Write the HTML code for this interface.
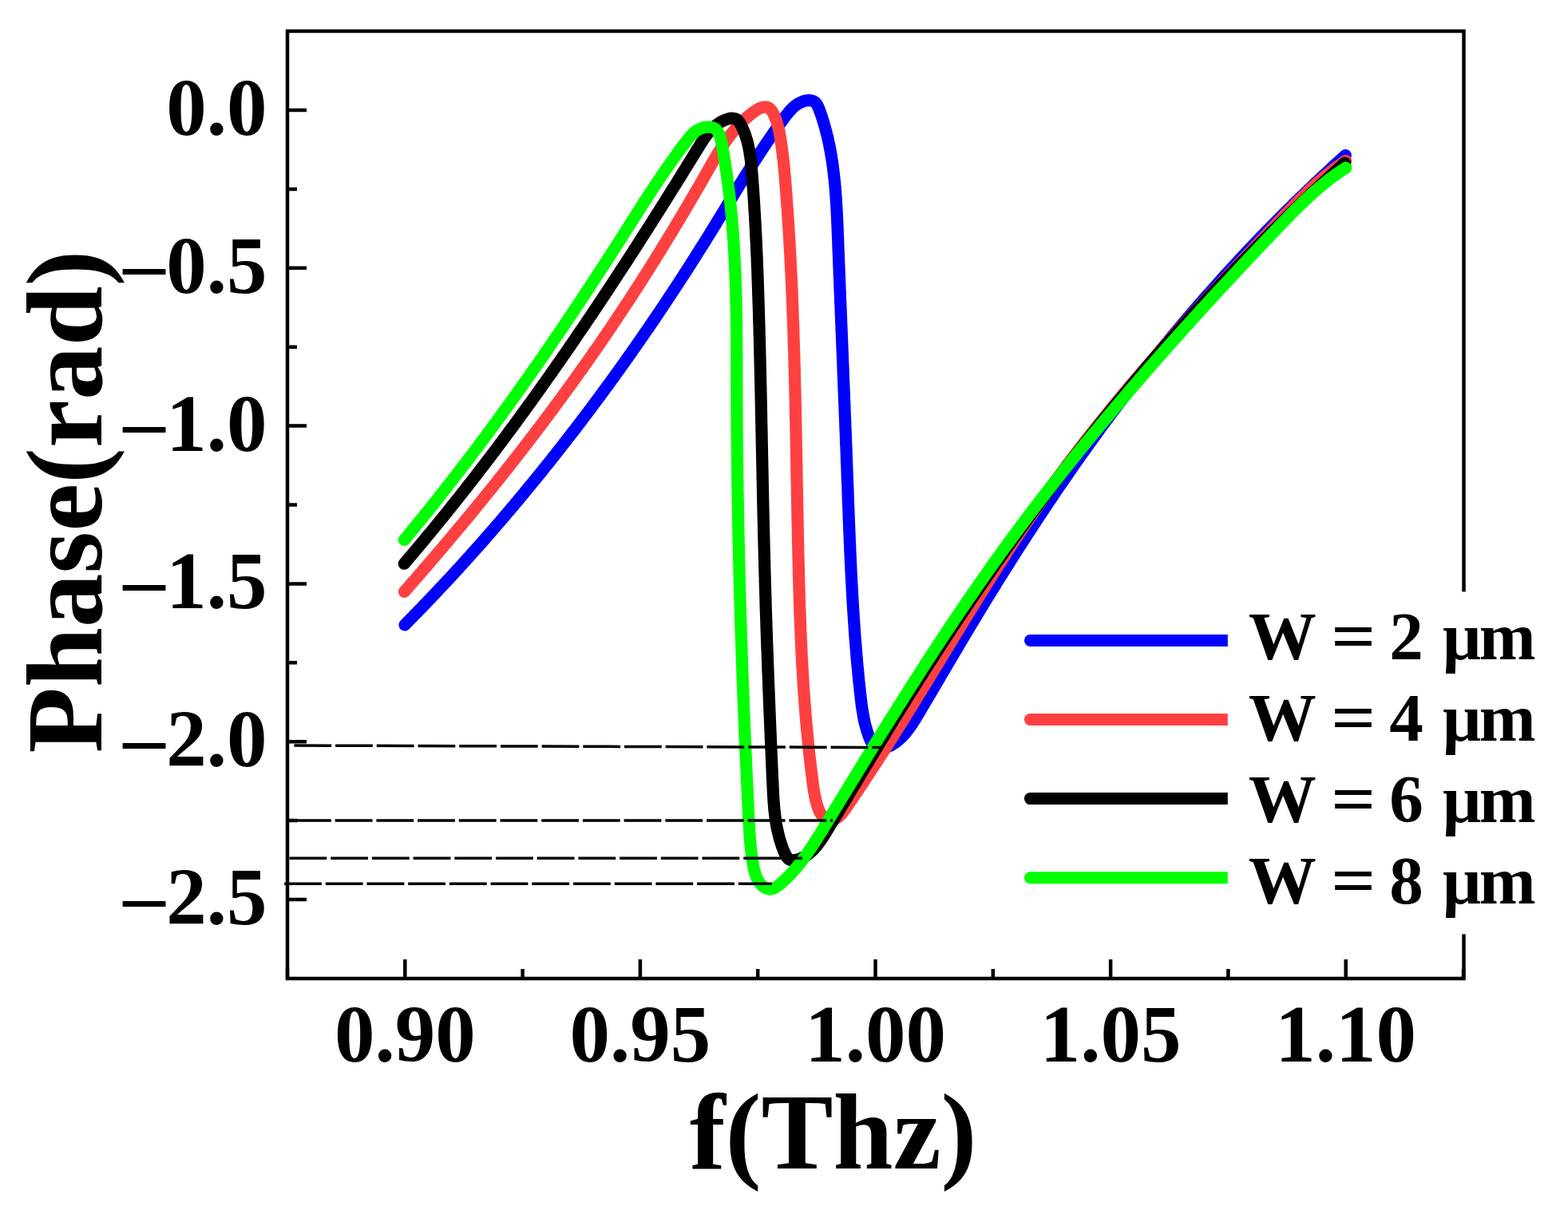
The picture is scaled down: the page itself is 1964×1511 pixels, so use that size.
<!DOCTYPE html>
<html><head><meta charset="utf-8"><title>Phase vs frequency</title>
<style>html,body{margin:0;padding:0;background:#fff;}svg{display:block;}</style>
</head><body>
<svg width="1964" height="1511" viewBox="0 0 1964 1511">
<rect x="0" y="0" width="1964" height="1511" fill="#ffffff"/>
<path d="M507.0,782.9 L509.1,780.7 L511.2,778.6 L513.3,776.5 L515.4,774.4 L517.5,772.2 L519.6,770.1 L521.7,767.9 L523.8,765.8 L525.9,763.6 L528.0,761.5 L530.0,759.3 L532.1,757.2 L534.2,755.0 L536.3,752.8 L538.3,750.7 L540.4,748.5 L542.5,746.3 L544.5,744.2 L546.6,742.0 L548.6,739.8 L550.7,737.6 L552.7,735.4 L554.8,733.2 L556.8,731.1 L558.9,728.9 L560.9,726.7 L563.0,724.5 L565.0,722.3 L567.0,720.1 L569.1,717.8 L571.1,715.6 L573.1,713.4 L575.2,711.2 L577.2,709.0 L579.2,706.8 L581.2,704.5 L583.2,702.3 L585.2,700.1 L587.3,697.9 L589.3,695.6 L591.3,693.4 L593.3,691.1 L595.3,688.9 L597.3,686.7 L599.3,684.4 L601.3,682.2 L603.3,679.9 L605.2,677.7 L607.2,675.4 L609.2,673.1 L611.2,670.9 L613.2,668.6 L615.1,666.3 L617.1,664.1 L619.1,661.8 L621.1,659.5 L623.0,657.2 L625.0,655.0 L627.0,652.7 L628.9,650.4 L630.9,648.1 L632.8,645.8 L634.8,643.5 L636.7,641.2 L638.7,638.9 L640.6,636.6 L642.6,634.3 L644.5,632.0 L646.4,629.7 L648.4,627.4 L650.3,625.1 L652.2,622.8 L654.1,620.5 L656.1,618.2 L658.0,615.8 L659.9,613.5 L661.8,611.2 L663.7,608.9 L665.6,606.5 L667.6,604.2 L669.5,601.9 L671.4,599.5 L673.3,597.2 L675.2,594.9 L677.1,592.5 L679.0,590.2 L680.8,587.8 L682.7,585.5 L684.6,583.1 L686.5,580.8 L688.4,578.4 L690.3,576.1 L692.1,573.7 L694.0,571.3 L695.9,569.0 L697.7,566.6 L699.6,564.2 L701.5,561.9 L703.3,559.5 L705.2,557.1 L707.0,554.8 L708.9,552.4 L710.7,550.0 L712.6,547.6 L714.4,545.2 L716.3,542.8 L718.1,540.5 L720.0,538.1 L721.8,535.7 L723.6,533.3 L725.5,530.9 L727.3,528.5 L729.1,526.1 L730.9,523.7 L732.7,521.3 L734.6,518.9 L736.4,516.5 L738.2,514.1 L740.0,511.7 L741.8,509.2 L743.6,506.8 L745.4,504.4 L747.2,502.0 L749.0,499.6 L750.8,497.2 L752.6,494.7 L754.4,492.3 L756.1,489.9 L757.9,487.5 L759.7,485.0 L761.5,482.6 L763.3,480.2 L765.0,477.7 L766.8,475.3 L768.6,472.9 L770.3,470.4 L772.1,468.0 L773.8,465.5 L775.6,463.1 L777.4,460.6 L779.1,458.2 L780.9,455.7 L782.6,453.3 L784.3,450.8 L786.1,448.4 L787.8,445.9 L789.6,443.5 L791.3,441.0 L793.0,438.5 L794.7,436.1 L796.5,433.6 L798.2,431.1 L799.9,428.7 L801.6,426.2 L803.3,423.7 L805.0,421.3 L806.7,418.8 L808.5,416.3 L810.2,413.8 L811.9,411.4 L813.6,408.9 L815.2,406.4 L816.9,403.9 L818.6,401.4 L820.3,399.0 L822.0,396.5 L823.7,394.0 L825.4,391.5 L827.0,389.0 L828.7,386.5 L830.4,384.0 L832.0,381.5 L833.7,379.0 L835.4,376.5 L837.0,374.0 L838.7,371.5 L840.3,369.0 L842.0,366.5 L843.6,364.0 L845.3,361.5 L846.9,359.0 L848.6,356.5 L850.2,354.0 L851.8,351.5 L853.5,349.0 L855.1,346.5 L856.7,343.9 L858.3,341.4 L860.0,338.9 L861.6,336.4 L863.2,333.9 L864.8,331.4 L866.4,328.8 L868.0,326.3 L869.6,323.8 L871.2,321.3 L872.8,318.7 L874.4,316.2 L876.0,313.7 L877.6,311.2 L879.2,308.6 L880.8,306.1 L882.4,303.6 L884.0,301.0 L885.5,298.5 L887.1,296.0 L888.7,293.4 L890.2,290.9 L891.8,288.4 L893.4,285.8 L894.9,283.3 L896.5,280.8 L898.0,278.2 L899.6,275.7 L901.2,273.1 L902.7,270.6 L904.3,268.0 L905.8,265.5 L907.4,262.9 L908.9,260.4 L910.5,257.9 L912.0,255.3 L913.6,252.8 L915.1,250.2 L916.7,247.7 L918.2,245.1 L919.8,242.6 L921.3,240.0 L922.9,237.5 L924.5,234.9 L926.0,232.4 L927.6,229.8 L929.2,227.3 L930.8,224.7 L932.4,222.2 L934.0,219.6 L935.6,217.1 L937.2,214.5 L938.8,212.0 L940.4,209.4 L942.0,206.9 L943.6,204.3 L945.3,201.8 L946.9,199.3 L948.6,196.7 L950.2,194.2 L951.9,191.6 L953.6,189.1 L955.2,186.5 L956.9,184.0 L958.6,181.5 L960.3,178.9 L962.1,176.4 L963.8,173.8 L965.5,171.3 L967.3,168.8 L969.0,166.2 L970.8,163.7 L972.6,161.2 L974.4,158.6 L976.2,156.1 L978.0,153.6 L979.9,151.0 L981.7,148.5 L983.6,146.0 L985.5,143.6 L987.4,141.2 L989.4,138.9 L991.5,136.7 L993.6,134.6 L995.8,132.7 L998.1,131.0 L1000.5,129.5 L1003.1,128.2 L1005.7,127.1 L1008.4,126.3 L1011.2,125.8 L1014.0,125.7 L1016.6,126.0 L1019.0,126.9 L1021.1,128.2 L1022.8,130.2 L1024.2,132.6 L1025.4,135.3 L1026.5,138.1 L1027.5,141.0 L1028.5,143.8 L1029.5,146.7 L1030.4,149.6 L1031.3,152.5 L1032.2,155.4 L1033.0,158.3 L1033.8,161.2 L1034.6,164.1 L1035.3,167.0 L1036.1,169.9 L1036.8,172.8 L1037.4,175.8 L1038.1,178.7 L1038.7,181.6 L1039.3,184.6 L1039.8,187.5 L1040.4,190.5 L1040.9,193.4 L1041.4,196.4 L1041.9,199.4 L1042.3,202.3 L1042.8,205.3 L1043.2,208.3 L1043.6,211.2 L1043.9,214.2 L1044.3,217.2 L1044.6,220.2 L1045.0,223.2 L1045.3,226.2 L1045.6,229.2 L1045.9,232.2 L1046.1,235.2 L1046.4,238.2 L1046.6,241.2 L1046.8,244.2 L1047.0,247.2 L1047.3,250.2 L1047.4,253.2 L1047.6,256.2 L1047.8,259.2 L1048.0,262.3 L1048.1,265.3 L1048.3,268.3 L1048.4,271.3 L1048.6,274.3 L1048.7,277.3 L1048.8,280.4 L1049.0,283.4 L1049.1,286.4 L1049.2,289.4 L1049.3,292.4 L1049.4,295.5 L1049.6,298.5 L1049.7,301.5 L1049.8,304.5 L1049.9,307.5 L1050.0,310.6 L1050.1,313.6 L1050.3,316.6 L1050.4,319.6 L1050.5,322.6 L1050.6,325.6 L1050.7,328.6 L1050.8,331.7 L1051.0,334.7 L1051.1,337.7 L1051.2,340.7 L1051.3,343.7 L1051.4,346.7 L1051.6,349.7 L1051.7,352.7 L1051.8,355.7 L1051.9,358.7 L1052.0,361.8 L1052.1,364.8 L1052.3,367.8 L1052.4,370.8 L1052.5,373.8 L1052.6,376.8 L1052.7,379.8 L1052.9,382.8 L1053.0,385.8 L1053.1,388.8 L1053.2,391.8 L1053.3,394.8 L1053.5,397.8 L1053.6,400.8 L1053.7,403.8 L1053.8,406.8 L1053.9,409.8 L1054.1,412.8 L1054.2,415.8 L1054.3,418.8 L1054.4,421.8 L1054.5,424.8 L1054.7,427.8 L1054.8,430.8 L1054.9,433.8 L1055.0,436.8 L1055.1,439.8 L1055.3,442.8 L1055.4,445.8 L1055.5,448.8 L1055.6,451.8 L1055.7,454.8 L1055.9,457.8 L1056.0,460.8 L1056.1,463.8 L1056.2,466.8 L1056.3,469.8 L1056.4,472.8 L1056.6,475.8 L1056.7,478.8 L1056.8,481.8 L1056.9,484.8 L1057.0,487.8 L1057.2,490.8 L1057.3,493.8 L1057.4,496.8 L1057.5,499.8 L1057.6,502.8 L1057.8,505.8 L1057.9,508.8 L1058.0,511.8 L1058.1,514.8 L1058.2,517.8 L1058.3,520.8 L1058.5,523.8 L1058.6,526.7 L1058.7,529.7 L1058.8,532.7 L1058.9,535.7 L1059.0,538.7 L1059.2,541.7 L1059.3,544.7 L1059.4,547.7 L1059.5,550.7 L1059.6,553.7 L1059.7,556.7 L1059.9,559.7 L1060.0,562.7 L1060.1,565.7 L1060.2,568.7 L1060.3,571.7 L1060.4,574.7 L1060.5,577.7 L1060.6,580.7 L1060.8,583.7 L1060.9,586.7 L1061.0,589.7 L1061.1,592.7 L1061.2,595.7 L1061.3,598.7 L1061.4,601.7 L1061.5,604.7 L1061.7,607.7 L1061.8,610.7 L1061.9,613.7 L1062.0,616.7 L1062.1,619.7 L1062.2,622.7 L1062.3,625.7 L1062.4,628.7 L1062.5,631.7 L1062.7,634.7 L1062.8,637.7 L1062.9,640.7 L1063.0,643.7 L1063.1,646.7 L1063.2,649.7 L1063.3,652.7 L1063.5,655.7 L1063.6,658.7 L1063.7,661.7 L1063.8,664.7 L1063.9,667.7 L1064.1,670.7 L1064.2,673.7 L1064.3,676.7 L1064.4,679.7 L1064.6,682.8 L1064.7,685.8 L1064.8,688.8 L1064.9,691.8 L1065.1,694.8 L1065.2,697.8 L1065.3,700.8 L1065.5,703.8 L1065.6,706.8 L1065.8,709.8 L1065.9,712.8 L1066.0,715.8 L1066.2,718.8 L1066.3,721.8 L1066.5,724.8 L1066.6,727.8 L1066.8,730.8 L1067.0,733.8 L1067.1,736.8 L1067.3,739.8 L1067.5,742.8 L1067.6,745.8 L1067.8,748.8 L1068.0,751.8 L1068.1,754.8 L1068.3,757.8 L1068.5,760.9 L1068.7,763.9 L1068.9,766.9 L1069.1,769.9 L1069.3,772.9 L1069.5,775.9 L1069.7,778.9 L1069.9,781.9 L1070.1,784.9 L1070.3,787.9 L1070.5,790.9 L1070.7,793.9 L1070.9,796.9 L1071.2,799.9 L1071.4,802.9 L1071.6,805.9 L1071.9,808.9 L1072.1,811.9 L1072.4,814.9 L1072.6,817.9 L1072.9,820.9 L1073.1,823.9 L1073.4,826.9 L1073.6,829.9 L1073.9,832.9 L1074.2,835.9 L1074.5,838.9 L1074.8,841.9 L1075.0,844.9 L1075.3,847.9 L1075.6,850.9 L1075.9,853.9 L1076.2,856.8 L1076.6,859.8 L1076.9,862.8 L1077.2,865.8 L1077.5,868.8 L1077.9,871.8 L1078.2,874.8 L1078.6,877.8 L1078.9,880.8 L1079.3,883.8 L1079.7,886.8 L1080.2,889.8 L1080.7,892.8 L1081.2,895.7 L1081.7,898.7 L1082.3,901.7 L1083.0,904.7 L1083.7,907.7 L1084.5,910.6 L1085.3,913.6 L1086.2,916.6 L1087.2,919.5 L1088.3,922.5 L1089.4,925.4 L1090.7,928.3 L1092.0,931.0 L1093.6,933.4 L1095.4,935.3 L1097.4,936.7 L1099.6,937.5 L1102.0,937.9 L1104.5,937.8 L1107.2,937.4 L1109.9,936.6 L1112.6,935.5 L1115.3,934.2 L1118.0,932.6 L1120.7,930.9 L1123.2,929.0 L1125.6,927.1 L1127.9,925.0 L1130.1,922.9 L1132.2,920.7 L1134.2,918.4 L1136.1,916.0 L1137.9,913.6 L1139.7,911.2 L1141.4,908.7 L1143.1,906.2 L1144.7,903.6 L1146.4,901.0 L1147.9,898.4 L1149.5,895.8 L1151.1,893.2 L1152.6,890.6 L1154.2,887.9 L1155.7,885.3 L1157.3,882.7 L1158.8,880.1 L1160.4,877.5 L1161.9,874.9 L1163.4,872.3 L1165.0,869.7 L1166.5,867.1 L1168.0,864.5 L1169.6,861.9 L1171.1,859.3 L1172.6,856.7 L1174.1,854.1 L1175.7,851.5 L1177.2,848.9 L1178.7,846.3 L1180.2,843.7 L1181.8,841.1 L1183.3,838.6 L1184.8,836.0 L1186.3,833.4 L1187.8,830.8 L1189.4,828.2 L1190.9,825.6 L1192.4,823.0 L1193.9,820.5 L1195.4,817.9 L1197.0,815.3 L1198.5,812.7 L1200.0,810.1 L1201.5,807.6 L1203.1,805.0 L1204.6,802.4 L1206.1,799.8 L1207.7,797.3 L1209.2,794.7 L1210.7,792.1 L1212.3,789.5 L1213.8,787.0 L1215.3,784.4 L1216.9,781.8 L1218.4,779.3 L1220.0,776.7 L1221.5,774.1 L1223.1,771.6 L1224.6,769.0 L1226.2,766.4 L1227.7,763.9 L1229.3,761.3 L1230.9,758.8 L1232.4,756.2 L1234.0,753.6 L1235.5,751.1 L1237.1,748.5 L1238.7,746.0 L1240.3,743.4 L1241.8,740.9 L1243.4,738.3 L1245.0,735.8 L1246.6,733.2 L1248.1,730.7 L1249.7,728.1 L1251.3,725.6 L1252.9,723.0 L1254.5,720.5 L1256.1,717.9 L1257.7,715.4 L1259.3,712.8 L1260.9,710.3 L1262.5,707.8 L1264.1,705.2 L1265.7,702.7 L1267.3,700.2 L1268.9,697.6 L1270.5,695.1 L1272.1,692.6 L1273.7,690.0 L1275.4,687.5 L1277.0,685.0 L1278.6,682.4 L1280.2,679.9 L1281.9,677.4 L1283.5,674.9 L1285.1,672.4 L1286.8,669.8 L1288.4,667.3 L1290.0,664.8 L1291.7,662.3 L1293.3,659.8 L1295.0,657.3 L1296.6,654.8 L1298.3,652.2 L1299.9,649.7 L1301.6,647.2 L1303.2,644.7 L1304.9,642.2 L1306.6,639.7 L1308.2,637.2 L1309.9,634.7 L1311.6,632.2 L1313.2,629.7 L1314.9,627.2 L1316.6,624.8 L1318.3,622.3 L1319.9,619.8 L1321.6,617.3 L1323.3,614.8 L1325.0,612.3 L1326.7,609.8 L1328.4,607.4 L1330.1,604.9 L1331.8,602.4 L1333.5,599.9 L1335.2,597.4 L1336.9,595.0 L1338.6,592.5 L1340.3,590.0 L1342.1,587.6 L1343.8,585.1 L1345.5,582.6 L1347.2,580.2 L1348.9,577.7 L1350.7,575.3 L1352.4,572.8 L1354.1,570.4 L1355.9,567.9 L1357.6,565.5 L1359.4,563.0 L1361.1,560.6 L1362.9,558.1 L1364.6,555.7 L1366.4,553.2 L1368.1,550.8 L1369.9,548.4 L1371.7,545.9 L1373.4,543.5 L1375.2,541.1 L1377.0,538.6 L1378.7,536.2 L1380.5,533.8 L1382.3,531.4 L1384.1,528.9 L1385.9,526.5 L1387.7,524.1 L1389.5,521.7 L1391.2,519.3 L1393.0,516.9 L1394.8,514.5 L1396.7,512.1 L1398.5,509.7 L1400.3,507.3 L1402.1,504.9 L1403.9,502.5 L1405.7,500.1 L1407.5,497.7 L1409.4,495.3 L1411.2,492.9 L1413.0,490.5 L1414.9,488.1 L1416.7,485.7 L1418.5,483.4 L1420.4,481.0 L1422.2,478.6 L1424.1,476.2 L1425.9,473.9 L1427.8,471.5 L1429.6,469.1 L1431.5,466.8 L1433.4,464.4 L1435.2,462.0 L1437.1,459.7 L1439.0,457.3 L1440.9,455.0 L1442.7,452.6 L1444.6,450.3 L1446.5,447.9 L1448.4,445.6 L1450.3,443.3 L1452.2,440.9 L1454.1,438.6 L1456.0,436.3 L1457.9,433.9 L1459.8,431.6 L1461.7,429.3 L1463.6,427.0 L1465.5,424.6 L1467.4,422.3 L1469.4,420.0 L1471.3,417.7 L1473.2,415.4 L1475.2,413.1 L1477.1,410.8 L1479.0,408.5 L1481.0,406.2 L1482.9,403.9 L1484.9,401.6 L1486.8,399.3 L1488.8,397.0 L1490.7,394.7 L1492.7,392.4 L1494.6,390.1 L1496.6,387.9 L1498.6,385.6 L1500.5,383.3 L1502.5,381.0 L1504.5,378.8 L1506.4,376.5 L1508.4,374.2 L1510.4,372.0 L1512.4,369.7 L1514.4,367.5 L1516.4,365.2 L1518.4,363.0 L1520.4,360.7 L1522.4,358.5 L1524.4,356.2 L1526.4,354.0 L1528.4,351.8 L1530.4,349.5 L1532.4,347.3 L1534.5,345.1 L1536.5,342.8 L1538.5,340.6 L1540.5,338.4 L1542.6,336.2 L1544.6,334.0 L1546.6,331.8 L1548.7,329.5 L1550.7,327.3 L1552.8,325.1 L1554.8,322.9 L1556.9,320.7 L1558.9,318.5 L1561.0,316.4 L1563.0,314.2 L1565.1,312.0 L1567.2,309.8 L1569.2,307.6 L1571.3,305.4 L1573.4,303.3 L1575.5,301.1 L1577.5,298.9 L1579.6,296.8 L1581.7,294.6 L1583.8,292.5 L1585.9,290.3 L1588.0,288.1 L1590.1,286.0 L1592.2,283.9 L1594.3,281.7 L1596.4,279.6 L1598.5,277.4 L1600.6,275.3 L1602.8,273.2 L1604.9,271.0 L1607.0,268.9 L1609.1,266.8 L1611.2,264.7 L1613.4,262.6 L1615.5,260.5 L1617.7,258.3 L1619.8,256.2 L1621.9,254.1 L1624.1,252.0 L1626.2,249.9 L1628.4,247.8 L1630.5,245.8 L1632.7,243.7 L1634.9,241.6 L1637.0,239.5 L1639.2,237.4 L1641.4,235.4 L1643.5,233.3 L1645.7,231.2 L1647.9,229.2 L1650.1,227.1 L1652.2,225.0 L1654.4,223.0 L1656.6,220.9 L1658.8,218.9 L1661.0,216.9 L1663.2,214.8 L1665.4,212.8 L1667.6,210.7 L1669.8,208.7 L1672.0,206.7 L1674.2,204.7 L1676.5,202.6 L1678.7,200.6 L1680.9,198.6 L1683.1,196.6 L1685.3,194.6" fill="none" stroke="#0000ff" stroke-width="15.2" stroke-linecap="round" stroke-linejoin="round"/>
<path d="M506.5,741.3 L508.5,739.1 L510.5,736.8 L512.5,734.5 L514.4,732.3 L516.4,730.0 L518.4,727.7 L520.4,725.5 L522.4,723.2 L524.3,720.9 L526.3,718.7 L528.3,716.4 L530.2,714.1 L532.2,711.8 L534.2,709.6 L536.1,707.3 L538.1,705.0 L540.1,702.7 L542.0,700.4 L544.0,698.2 L545.9,695.9 L547.9,693.6 L549.8,691.3 L551.8,689.0 L553.7,686.7 L555.7,684.4 L557.6,682.1 L559.6,679.8 L561.5,677.5 L563.4,675.2 L565.4,672.9 L567.3,670.6 L569.3,668.3 L571.2,666.0 L573.1,663.7 L575.0,661.4 L577.0,659.1 L578.9,656.8 L580.8,654.5 L582.7,652.2 L584.6,649.9 L586.6,647.6 L588.5,645.2 L590.4,642.9 L592.3,640.6 L594.2,638.3 L596.1,636.0 L598.0,633.6 L599.9,631.3 L601.8,629.0 L603.7,626.7 L605.6,624.3 L607.5,622.0 L609.4,619.7 L611.3,617.3 L613.2,615.0 L615.1,612.7 L616.9,610.3 L618.8,608.0 L620.7,605.6 L622.6,603.3 L624.4,600.9 L626.3,598.6 L628.2,596.2 L630.1,593.9 L631.9,591.5 L633.8,589.2 L635.7,586.8 L637.5,584.5 L639.4,582.1 L641.2,579.8 L643.1,577.4 L644.9,575.0 L646.8,572.7 L648.6,570.3 L650.5,567.9 L652.3,565.6 L654.1,563.2 L656.0,560.8 L657.8,558.4 L659.7,556.1 L661.5,553.7 L663.3,551.3 L665.1,548.9 L667.0,546.5 L668.8,544.1 L670.6,541.8 L672.4,539.4 L674.2,537.0 L676.1,534.6 L677.9,532.2 L679.7,529.8 L681.5,527.4 L683.3,525.0 L685.1,522.6 L686.9,520.2 L688.7,517.8 L690.5,515.4 L692.3,513.0 L694.0,510.6 L695.8,508.1 L697.6,505.7 L699.4,503.3 L701.2,500.9 L703.0,498.5 L704.7,496.1 L706.5,493.6 L708.3,491.2 L710.0,488.8 L711.8,486.4 L713.6,483.9 L715.3,481.5 L717.1,479.1 L718.8,476.6 L720.6,474.2 L722.3,471.7 L724.1,469.3 L725.8,466.8 L727.6,464.4 L729.3,462.0 L731.1,459.5 L732.8,457.0 L734.5,454.6 L736.3,452.1 L738.0,449.7 L739.7,447.2 L741.4,444.8 L743.1,442.3 L744.9,439.8 L746.6,437.4 L748.3,434.9 L750.0,432.4 L751.7,429.9 L753.4,427.5 L755.1,425.0 L756.8,422.5 L758.5,420.0 L760.2,417.5 L761.9,415.0 L763.6,412.6 L765.3,410.1 L766.9,407.6 L768.6,405.1 L770.3,402.6 L772.0,400.1 L773.6,397.6 L775.3,395.1 L777.0,392.6 L778.6,390.1 L780.3,387.6 L781.9,385.0 L783.6,382.5 L785.3,380.0 L786.9,377.5 L788.6,375.0 L790.2,372.5 L791.8,369.9 L793.5,367.4 L795.1,364.9 L796.7,362.4 L798.4,359.8 L800.0,357.3 L801.6,354.8 L803.2,352.2 L804.9,349.7 L806.5,347.1 L808.1,344.6 L809.7,342.1 L811.3,339.5 L812.9,337.0 L814.5,334.4 L816.1,331.9 L817.7,329.3 L819.3,326.8 L820.9,324.2 L822.5,321.7 L824.1,319.1 L825.7,316.5 L827.3,314.0 L828.8,311.4 L830.4,308.9 L832.0,306.3 L833.6,303.7 L835.1,301.2 L836.7,298.6 L838.3,296.0 L839.8,293.5 L841.4,290.9 L842.9,288.3 L844.5,285.7 L846.0,283.2 L847.6,280.6 L849.1,278.0 L850.7,275.4 L852.2,272.9 L853.7,270.3 L855.3,267.7 L856.8,265.1 L858.3,262.5 L859.9,259.9 L861.4,257.4 L862.9,254.8 L864.4,252.2 L865.9,249.6 L867.4,247.0 L869.0,244.4 L870.5,241.8 L872.0,239.2 L873.5,236.6 L875.0,234.1 L876.5,231.5 L878.0,228.9 L879.5,226.3 L880.9,223.7 L882.4,221.1 L883.9,218.5 L885.4,215.9 L886.9,213.3 L888.3,210.7 L889.8,208.1 L891.3,205.5 L892.8,202.9 L894.3,200.3 L895.8,197.8 L897.4,195.2 L898.9,192.6 L900.5,190.1 L902.0,187.6 L903.7,185.0 L905.3,182.5 L907.0,180.1 L908.7,177.6 L910.4,175.1 L912.2,172.7 L914.0,170.3 L915.8,167.9 L917.7,165.6 L919.6,163.3 L921.6,161.0 L923.7,158.7 L925.8,156.4 L927.9,154.2 L930.1,152.1 L932.4,149.9 L934.7,147.8 L937.1,145.7 L939.6,143.7 L942.1,141.7 L944.7,139.8 L947.3,138.1 L949.9,136.5 L952.5,135.3 L955.1,134.4 L957.5,134.0 L959.8,134.0 L962.0,134.7 L964.1,136.0 L965.9,138.0 L967.6,140.4 L969.0,143.2 L970.4,146.1 L971.6,149.1 L972.6,152.1 L973.5,155.0 L974.4,158.0 L975.1,161.0 L975.8,163.9 L976.4,166.9 L976.9,169.9 L977.4,172.8 L977.9,175.8 L978.4,178.8 L978.8,181.7 L979.2,184.7 L979.6,187.7 L980.0,190.7 L980.4,193.7 L980.7,196.6 L981.1,199.6 L981.4,202.6 L981.7,205.6 L982.0,208.6 L982.3,211.6 L982.5,214.6 L982.8,217.5 L983.1,220.5 L983.3,223.5 L983.5,226.5 L983.8,229.5 L984.0,232.5 L984.3,235.5 L984.5,238.5 L984.7,241.5 L985.0,244.5 L985.2,247.5 L985.4,250.5 L985.6,253.5 L985.8,256.5 L986.1,259.4 L986.3,262.4 L986.5,265.4 L986.7,268.4 L986.9,271.4 L987.1,274.4 L987.3,277.4 L987.5,280.4 L987.7,283.4 L987.9,286.4 L988.0,289.4 L988.2,292.4 L988.4,295.4 L988.6,298.4 L988.8,301.4 L988.9,304.4 L989.1,307.4 L989.3,310.4 L989.4,313.4 L989.6,316.4 L989.8,319.4 L989.9,322.4 L990.1,325.4 L990.2,328.4 L990.4,331.4 L990.5,334.4 L990.7,337.4 L990.8,340.4 L991.0,343.4 L991.1,346.4 L991.3,349.3 L991.4,352.3 L991.5,355.3 L991.7,358.3 L991.8,361.3 L991.9,364.3 L992.1,367.3 L992.2,370.3 L992.3,373.4 L992.4,376.4 L992.6,379.4 L992.7,382.4 L992.8,385.4 L992.9,388.4 L993.0,391.4 L993.1,394.4 L993.2,397.4 L993.3,400.4 L993.4,403.4 L993.6,406.4 L993.7,409.4 L993.8,412.4 L993.9,415.4 L994.0,418.4 L994.1,421.4 L994.1,424.4 L994.2,427.4 L994.3,430.4 L994.4,433.4 L994.5,436.4 L994.6,439.4 L994.7,442.4 L994.8,445.4 L994.9,448.4 L994.9,451.4 L995.0,454.4 L995.1,457.4 L995.2,460.4 L995.3,463.4 L995.3,466.4 L995.4,469.4 L995.5,472.4 L995.6,475.4 L995.6,478.4 L995.7,481.5 L995.8,484.5 L995.9,487.5 L995.9,490.5 L996.0,493.5 L996.1,496.5 L996.1,499.5 L996.2,502.5 L996.3,505.5 L996.3,508.5 L996.4,511.5 L996.4,514.5 L996.5,517.5 L996.6,520.5 L996.6,523.5 L996.7,526.5 L996.8,529.5 L996.8,532.5 L996.9,535.5 L996.9,538.6 L997.0,541.6 L997.0,544.6 L997.1,547.6 L997.2,550.6 L997.2,553.6 L997.3,556.6 L997.3,559.6 L997.4,562.6 L997.4,565.6 L997.5,568.6 L997.5,571.6 L997.6,574.6 L997.7,577.6 L997.7,580.6 L997.8,583.6 L997.8,586.6 L997.9,589.7 L997.9,592.7 L998.0,595.7 L998.0,598.7 L998.1,601.7 L998.1,604.7 L998.2,607.7 L998.3,610.7 L998.3,613.7 L998.4,616.7 L998.4,619.7 L998.5,622.7 L998.5,625.7 L998.6,628.7 L998.6,631.7 L998.7,634.8 L998.8,637.8 L998.8,640.8 L998.9,643.8 L998.9,646.8 L999.0,649.8 L999.0,652.8 L999.1,655.8 L999.2,658.8 L999.2,661.8 L999.3,664.8 L999.3,667.8 L999.4,670.8 L999.5,673.8 L999.5,676.8 L999.6,679.8 L999.7,682.9 L999.7,685.9 L999.8,688.9 L999.9,691.9 L999.9,694.9 L1000.0,697.9 L1000.1,700.9 L1000.1,703.9 L1000.2,706.9 L1000.3,709.9 L1000.4,712.9 L1000.4,715.9 L1000.5,718.9 L1000.6,721.9 L1000.7,724.9 L1000.7,727.9 L1000.8,730.9 L1000.9,733.9 L1001.0,737.0 L1001.1,740.0 L1001.2,743.0 L1001.2,746.0 L1001.3,749.0 L1001.4,752.0 L1001.5,755.0 L1001.6,758.0 L1001.7,761.0 L1001.8,764.0 L1001.9,767.0 L1002.0,770.0 L1002.1,773.0 L1002.2,776.0 L1002.4,779.0 L1002.5,782.0 L1002.6,785.0 L1002.7,788.0 L1002.8,791.0 L1003.0,794.0 L1003.1,797.0 L1003.2,800.0 L1003.3,803.0 L1003.5,806.0 L1003.6,809.0 L1003.8,812.0 L1003.9,815.0 L1004.0,818.0 L1004.2,821.0 L1004.3,824.0 L1004.5,827.0 L1004.7,830.0 L1004.8,833.0 L1005.0,836.0 L1005.2,839.0 L1005.3,842.0 L1005.5,845.0 L1005.7,848.0 L1005.9,851.0 L1006.0,854.0 L1006.2,857.0 L1006.4,860.0 L1006.6,863.0 L1006.8,866.0 L1007.0,869.0 L1007.2,872.0 L1007.5,875.0 L1007.7,877.9 L1007.9,880.9 L1008.1,883.9 L1008.4,886.9 L1008.6,889.9 L1008.8,892.9 L1009.1,895.9 L1009.3,898.9 L1009.6,901.9 L1009.8,904.9 L1010.1,907.9 L1010.4,910.8 L1010.6,913.8 L1010.9,916.8 L1011.2,919.8 L1011.5,922.8 L1011.8,925.8 L1012.1,928.8 L1012.4,931.8 L1012.7,934.7 L1013.0,937.7 L1013.3,940.7 L1013.6,943.7 L1013.9,946.7 L1014.3,949.7 L1014.6,952.6 L1015.0,955.6 L1015.3,958.6 L1015.7,961.6 L1016.0,964.6 L1016.4,967.5 L1016.8,970.5 L1017.1,973.5 L1017.5,976.5 L1017.9,979.5 L1018.3,982.4 L1018.7,985.4 L1019.1,988.4 L1019.6,991.4 L1020.1,994.3 L1020.7,997.3 L1021.3,1000.3 L1022.0,1003.3 L1022.8,1006.2 L1023.6,1009.2 L1024.6,1012.2 L1025.7,1015.2 L1027.0,1018.0 L1028.7,1020.5 L1030.8,1022.7 L1033.3,1024.4 L1036.0,1025.6 L1038.8,1026.3 L1041.6,1026.6 L1044.3,1026.3 L1046.8,1025.5 L1049.1,1024.3 L1051.2,1022.7 L1053.2,1020.8 L1055.0,1018.7 L1056.8,1016.3 L1058.6,1013.9 L1060.3,1011.4 L1062.0,1008.9 L1063.7,1006.4 L1065.5,1003.9 L1067.2,1001.3 L1068.9,998.8 L1070.6,996.3 L1072.3,993.8 L1074.0,991.3 L1075.6,988.8 L1077.3,986.2 L1079.0,983.7 L1080.7,981.2 L1082.4,978.7 L1084.0,976.1 L1085.7,973.6 L1087.4,971.1 L1089.0,968.5 L1090.7,966.0 L1092.3,963.5 L1094.0,960.9 L1095.6,958.4 L1097.3,955.9 L1098.9,953.3 L1100.6,950.8 L1102.2,948.2 L1103.8,945.7 L1105.5,943.1 L1107.1,940.6 L1108.7,938.1 L1110.3,935.5 L1112.0,933.0 L1113.6,930.4 L1115.2,927.8 L1116.8,925.3 L1118.4,922.7 L1120.0,920.2 L1121.6,917.6 L1123.2,915.1 L1124.8,912.5 L1126.4,910.0 L1128.0,907.4 L1129.6,904.8 L1131.2,902.3 L1132.8,899.7 L1134.4,897.2 L1136.0,894.6 L1137.6,892.0 L1139.2,889.5 L1140.7,886.9 L1142.3,884.3 L1143.9,881.8 L1145.5,879.2 L1147.1,876.7 L1148.6,874.1 L1150.2,871.5 L1151.8,869.0 L1153.4,866.4 L1154.9,863.8 L1156.5,861.3 L1158.1,858.7 L1159.7,856.1 L1161.2,853.6 L1162.8,851.0 L1164.4,848.4 L1165.9,845.9 L1167.5,843.3 L1169.1,840.7 L1170.6,838.1 L1172.2,835.6 L1173.8,833.0 L1175.3,830.4 L1176.9,827.9 L1178.4,825.3 L1180.0,822.7 L1181.6,820.2 L1183.1,817.6 L1184.7,815.0 L1186.3,812.5 L1187.8,809.9 L1189.4,807.4 L1191.0,804.8 L1192.5,802.2 L1194.1,799.7 L1195.6,797.1 L1197.2,794.5 L1198.8,792.0 L1200.3,789.4 L1201.9,786.9 L1203.5,784.3 L1205.0,781.7 L1206.6,779.2 L1208.2,776.6 L1209.7,774.1 L1211.3,771.5 L1212.9,769.0 L1214.5,766.4 L1216.0,763.8 L1217.6,761.3 L1219.2,758.7 L1220.8,756.2 L1222.3,753.6 L1223.9,751.1 L1225.5,748.5 L1227.1,746.0 L1228.7,743.5 L1230.2,740.9 L1231.8,738.4 L1233.4,735.8 L1235.0,733.3 L1236.6,730.8 L1238.2,728.2 L1239.8,725.7 L1241.4,723.1 L1243.0,720.6 L1244.6,718.1 L1246.2,715.6 L1247.8,713.0 L1249.4,710.5 L1251.0,708.0 L1252.6,705.4 L1254.2,702.9 L1255.8,700.4 L1257.5,697.9 L1259.1,695.4 L1260.7,692.9 L1262.3,690.3 L1264.0,687.8 L1265.6,685.3 L1267.2,682.8 L1268.9,680.3 L1270.5,677.8 L1272.1,675.3 L1273.8,672.8 L1275.4,670.3 L1277.1,667.8 L1278.7,665.3 L1280.4,662.8 L1282.1,660.3 L1283.7,657.8 L1285.4,655.3 L1287.1,652.9 L1288.7,650.4 L1290.4,647.9 L1292.1,645.4 L1293.8,643.0 L1295.5,640.5 L1297.2,638.0 L1298.9,635.5 L1300.6,633.1 L1302.3,630.6 L1304.0,628.2 L1305.7,625.7 L1307.4,623.2 L1309.1,620.8 L1310.8,618.3 L1312.6,615.9 L1314.3,613.4 L1316.0,611.0 L1317.8,608.6 L1319.5,606.1 L1321.3,603.7 L1323.0,601.3 L1324.8,598.8 L1326.6,596.4 L1328.3,594.0 L1330.1,591.6 L1331.9,589.2 L1333.7,586.7 L1335.4,584.3 L1337.2,581.9 L1339.0,579.5 L1340.8,577.1 L1342.6,574.7 L1344.4,572.3 L1346.2,569.9 L1348.1,567.5 L1349.9,565.1 L1351.7,562.8 L1353.5,560.4 L1355.4,558.0 L1357.2,555.6 L1359.0,553.2 L1360.9,550.9 L1362.7,548.5 L1364.6,546.1 L1366.4,543.8 L1368.3,541.4 L1370.1,539.0 L1372.0,536.7 L1373.9,534.3 L1375.8,532.0 L1377.6,529.6 L1379.5,527.3 L1381.4,524.9 L1383.3,522.6 L1385.2,520.2 L1387.1,517.9 L1389.0,515.6 L1390.9,513.2 L1392.8,510.9 L1394.7,508.6 L1396.6,506.2 L1398.5,503.9 L1400.4,501.6 L1402.3,499.3 L1404.2,497.0 L1406.2,494.6 L1408.1,492.3 L1410.0,490.0 L1412.0,487.7 L1413.9,485.4 L1415.8,483.1 L1417.8,480.8 L1419.7,478.5 L1421.7,476.2 L1423.6,473.9 L1425.6,471.6 L1427.5,469.3 L1429.5,467.0 L1431.4,464.7 L1433.4,462.4 L1435.4,460.1 L1437.3,457.8 L1439.3,455.6 L1441.3,453.3 L1443.3,451.0 L1445.2,448.7 L1447.2,446.5 L1449.2,444.2 L1451.2,441.9 L1453.2,439.6 L1455.2,437.4 L1457.2,435.1 L1459.1,432.8 L1461.1,430.6 L1463.1,428.3 L1465.1,426.1 L1467.1,423.8 L1469.1,421.5 L1471.1,419.3 L1473.1,417.0 L1475.2,414.8 L1477.2,412.5 L1479.2,410.3 L1481.2,408.0 L1483.2,405.8 L1485.2,403.6 L1487.2,401.3 L1489.2,399.1 L1491.3,396.8 L1493.3,394.6 L1495.3,392.4 L1497.3,390.1 L1499.4,387.9 L1501.4,385.7 L1503.4,383.4 L1505.4,381.2 L1507.5,379.0 L1509.5,376.7 L1511.5,374.5 L1513.6,372.3 L1515.6,370.1 L1517.6,367.9 L1519.7,365.6 L1521.7,363.4 L1523.8,361.2 L1525.8,359.0 L1527.8,356.8 L1529.9,354.6 L1531.9,352.3 L1534.0,350.1 L1536.0,347.9 L1538.0,345.7 L1540.1,343.5 L1542.1,341.3 L1544.2,339.1 L1546.2,336.9 L1548.3,334.7 L1550.3,332.5 L1552.4,330.3 L1554.4,328.1 L1556.5,325.9 L1558.5,323.7 L1560.6,321.5 L1562.6,319.3 L1564.7,317.1 L1566.7,314.9 L1568.8,312.7 L1570.8,310.5 L1572.8,308.3 L1574.9,306.1 L1576.9,303.9 L1579.0,301.7 L1581.0,299.5 L1583.1,297.3 L1585.1,295.2 L1587.2,293.0 L1589.2,290.8 L1591.3,288.6 L1593.3,286.4 L1595.4,284.2 L1597.4,282.0 L1599.5,279.9 L1601.5,277.7 L1603.6,275.5 L1605.6,273.3 L1607.7,271.1 L1609.7,269.0 L1611.8,266.8 L1613.8,264.6 L1615.9,262.5 L1617.9,260.3 L1620.0,258.2 L1622.1,256.0 L1624.2,253.9 L1626.3,251.8 L1628.4,249.6 L1630.5,247.5 L1632.6,245.4 L1634.7,243.4 L1636.9,241.3 L1639.0,239.2 L1641.2,237.2 L1643.4,235.1 L1645.6,233.1 L1647.8,231.1 L1650.0,229.1 L1652.3,227.1 L1654.5,225.2 L1656.8,223.2 L1659.1,221.3 L1661.4,219.4 L1663.7,217.5 L1666.1,215.6 L1668.5,213.8 L1670.9,211.9 L1673.3,210.1 L1675.7,208.3 L1678.2,206.6 L1680.7,204.8 L1683.2,203.1 L1685.7,201.4" fill="none" stroke="#ff4040" stroke-width="15.2" stroke-linecap="round" stroke-linejoin="round"/>
<path d="M506.3,706.2 L508.3,703.9 L510.2,701.6 L512.2,699.3 L514.1,697.0 L516.1,694.7 L518.0,692.4 L520.0,690.1 L521.9,687.8 L523.9,685.5 L525.8,683.2 L527.7,680.9 L529.7,678.6 L531.6,676.2 L533.5,673.9 L535.4,671.6 L537.4,669.3 L539.3,667.0 L541.2,664.6 L543.1,662.3 L545.0,660.0 L546.9,657.6 L548.8,655.3 L550.7,653.0 L552.6,650.6 L554.5,648.3 L556.4,646.0 L558.3,643.6 L560.2,641.3 L562.1,638.9 L564.0,636.6 L565.8,634.2 L567.7,631.9 L569.6,629.5 L571.5,627.2 L573.3,624.8 L575.2,622.5 L577.1,620.1 L578.9,617.8 L580.8,615.4 L582.7,613.0 L584.5,610.7 L586.4,608.3 L588.2,605.9 L590.1,603.6 L591.9,601.2 L593.7,598.8 L595.6,596.5 L597.4,594.1 L599.3,591.7 L601.1,589.3 L602.9,586.9 L604.7,584.6 L606.6,582.2 L608.4,579.8 L610.2,577.4 L612.0,575.0 L613.8,572.6 L615.7,570.2 L617.5,567.8 L619.3,565.5 L621.1,563.1 L622.9,560.7 L624.7,558.3 L626.5,555.9 L628.3,553.5 L630.1,551.1 L631.9,548.6 L633.7,546.2 L635.5,543.8 L637.3,541.4 L639.0,539.0 L640.8,536.6 L642.6,534.2 L644.4,531.8 L646.2,529.4 L647.9,526.9 L649.7,524.5 L651.5,522.1 L653.2,519.7 L655.0,517.2 L656.8,514.8 L658.5,512.4 L660.3,510.0 L662.0,507.5 L663.8,505.1 L665.6,502.7 L667.3,500.2 L669.1,497.8 L670.8,495.4 L672.5,492.9 L674.3,490.5 L676.0,488.0 L677.8,485.6 L679.5,483.1 L681.2,480.7 L683.0,478.3 L684.7,475.8 L686.4,473.4 L688.2,470.9 L689.9,468.5 L691.6,466.0 L693.3,463.5 L695.1,461.1 L696.8,458.6 L698.5,456.2 L700.2,453.7 L701.9,451.2 L703.6,448.8 L705.3,446.3 L707.1,443.9 L708.8,441.4 L710.5,438.9 L712.2,436.4 L713.9,434.0 L715.6,431.5 L717.3,429.0 L719.0,426.6 L720.7,424.1 L722.3,421.6 L724.0,419.1 L725.7,416.6 L727.4,414.2 L729.1,411.7 L730.8,409.2 L732.5,406.7 L734.2,404.2 L735.8,401.7 L737.5,399.2 L739.2,396.8 L740.9,394.3 L742.5,391.8 L744.2,389.3 L745.9,386.8 L747.5,384.3 L749.2,381.8 L750.9,379.3 L752.5,376.8 L754.2,374.3 L755.9,371.8 L757.5,369.3 L759.2,366.8 L760.8,364.3 L762.5,361.8 L764.1,359.3 L765.8,356.8 L767.5,354.2 L769.1,351.7 L770.8,349.2 L772.4,346.7 L774.0,344.2 L775.7,341.7 L777.3,339.2 L779.0,336.6 L780.6,334.1 L782.3,331.6 L783.9,329.1 L785.5,326.6 L787.2,324.0 L788.8,321.5 L790.4,319.0 L792.1,316.5 L793.7,313.9 L795.3,311.4 L797.0,308.9 L798.6,306.3 L800.2,303.8 L801.8,301.3 L803.5,298.7 L805.1,296.2 L806.7,293.7 L808.3,291.1 L809.9,288.6 L811.6,286.0 L813.2,283.5 L814.8,281.0 L816.4,278.4 L818.0,275.9 L819.6,273.3 L821.2,270.8 L822.8,268.2 L824.5,265.7 L826.1,263.1 L827.7,260.6 L829.3,258.0 L830.9,255.5 L832.5,252.9 L834.1,250.4 L835.7,247.8 L837.3,245.3 L838.9,242.7 L840.5,240.2 L842.1,237.6 L843.7,235.0 L845.3,232.5 L846.9,229.9 L848.5,227.4 L850.1,224.8 L851.7,222.2 L853.3,219.7 L854.9,217.1 L856.4,214.5 L858.0,212.0 L859.6,209.4 L861.2,206.8 L862.8,204.3 L864.4,201.7 L866.0,199.1 L867.6,196.6 L869.1,194.0 L870.7,191.4 L872.3,188.8 L873.9,186.3 L875.5,183.7 L877.1,181.1 L878.7,178.6 L880.3,176.0 L882.0,173.5 L883.7,171.1 L885.5,168.7 L887.3,166.4 L889.2,164.2 L891.2,162.0 L893.3,159.9 L895.5,158.0 L897.9,156.1 L900.3,154.4 L902.9,152.8 L905.6,151.4 L908.5,150.1 L911.4,149.1 L914.3,148.4 L917.2,148.2 L919.8,148.5 L922.3,149.4 L924.4,151.0 L926.2,153.3 L927.7,155.9 L929.1,158.7 L930.4,161.5 L931.6,164.3 L932.8,167.1 L933.8,170.0 L934.7,172.9 L935.6,175.8 L936.4,178.7 L937.1,181.6 L937.7,184.5 L938.3,187.5 L938.9,190.4 L939.3,193.4 L939.8,196.4 L940.2,199.4 L940.5,202.4 L940.8,205.4 L941.1,208.4 L941.4,211.4 L941.7,214.4 L941.9,217.4 L942.1,220.4 L942.4,223.4 L942.6,226.4 L942.8,229.4 L943.0,232.4 L943.3,235.5 L943.5,238.5 L943.7,241.5 L943.9,244.5 L944.1,247.5 L944.3,250.5 L944.5,253.5 L944.7,256.5 L944.8,259.5 L945.0,262.5 L945.2,265.5 L945.4,268.5 L945.6,271.5 L945.7,274.5 L945.9,277.5 L946.1,280.5 L946.2,283.5 L946.4,286.5 L946.5,289.5 L946.7,292.5 L946.8,295.5 L947.0,298.5 L947.1,301.5 L947.3,304.5 L947.4,307.5 L947.5,310.5 L947.7,313.5 L947.8,316.5 L947.9,319.5 L948.1,322.5 L948.2,325.5 L948.3,328.5 L948.4,331.5 L948.5,334.5 L948.7,337.5 L948.8,340.5 L948.9,343.5 L949.0,346.5 L949.1,349.5 L949.2,352.5 L949.3,355.5 L949.4,358.4 L949.5,361.4 L949.6,364.4 L949.7,367.4 L949.8,370.4 L949.9,373.4 L950.0,376.4 L950.1,379.4 L950.2,382.4 L950.3,385.4 L950.4,388.4 L950.5,391.4 L950.6,394.4 L950.6,397.4 L950.7,400.4 L950.8,403.4 L950.9,406.4 L951.0,409.4 L951.1,412.4 L951.1,415.4 L951.2,418.4 L951.3,421.4 L951.4,424.4 L951.5,427.4 L951.5,430.4 L951.6,433.4 L951.7,436.4 L951.8,439.4 L951.8,442.4 L951.9,445.4 L952.0,448.4 L952.0,451.4 L952.1,454.5 L952.2,457.5 L952.3,460.5 L952.3,463.5 L952.4,466.5 L952.5,469.5 L952.5,472.5 L952.6,475.5 L952.7,478.5 L952.7,481.5 L952.8,484.5 L952.9,487.5 L952.9,490.5 L953.0,493.5 L953.1,496.5 L953.1,499.5 L953.2,502.6 L953.3,505.6 L953.3,508.6 L953.4,511.6 L953.4,514.6 L953.5,517.6 L953.6,520.6 L953.6,523.6 L953.7,526.6 L953.7,529.6 L953.8,532.6 L953.9,535.6 L953.9,538.6 L954.0,541.7 L954.1,544.7 L954.1,547.7 L954.2,550.7 L954.2,553.7 L954.3,556.7 L954.4,559.7 L954.4,562.7 L954.5,565.7 L954.5,568.7 L954.6,571.7 L954.7,574.7 L954.7,577.8 L954.8,580.8 L954.8,583.8 L954.9,586.8 L955.0,589.8 L955.0,592.8 L955.1,595.8 L955.1,598.8 L955.2,601.8 L955.3,604.8 L955.3,607.8 L955.4,610.8 L955.5,613.8 L955.5,616.9 L955.6,619.9 L955.6,622.9 L955.7,625.9 L955.8,628.9 L955.8,631.9 L955.9,634.9 L956.0,637.9 L956.0,640.9 L956.1,643.9 L956.2,646.9 L956.2,649.9 L956.3,652.9 L956.4,655.9 L956.5,658.9 L956.5,661.9 L956.6,664.9 L956.7,668.0 L956.7,671.0 L956.8,674.0 L956.9,677.0 L957.0,680.0 L957.0,683.0 L957.1,686.0 L957.2,689.0 L957.3,692.0 L957.3,695.0 L957.4,698.0 L957.5,701.0 L957.6,704.0 L957.7,707.0 L957.7,710.0 L957.8,713.0 L957.9,716.0 L958.0,719.0 L958.1,722.0 L958.2,725.0 L958.2,728.0 L958.3,731.0 L958.4,734.0 L958.5,737.0 L958.6,740.0 L958.7,743.0 L958.8,746.0 L958.9,749.0 L959.0,752.0 L959.0,755.0 L959.1,758.0 L959.2,761.0 L959.3,763.9 L959.4,766.9 L959.5,769.9 L959.6,772.9 L959.7,775.9 L959.8,778.9 L959.9,781.9 L960.0,784.9 L960.1,787.9 L960.2,790.9 L960.3,793.9 L960.4,796.9 L960.5,799.9 L960.6,802.9 L960.7,805.9 L960.8,808.9 L960.9,811.9 L961.1,814.9 L961.2,817.9 L961.3,820.9 L961.4,823.9 L961.5,826.9 L961.6,829.9 L961.7,832.9 L961.8,835.9 L961.9,838.9 L962.0,841.9 L962.2,844.9 L962.3,847.9 L962.4,850.9 L962.5,853.9 L962.6,856.9 L962.7,859.9 L962.8,862.9 L963.0,865.9 L963.1,868.9 L963.2,871.9 L963.3,874.9 L963.4,877.9 L963.6,880.9 L963.7,883.9 L963.8,886.9 L963.9,889.9 L964.0,892.9 L964.2,895.9 L964.3,898.9 L964.4,901.9 L964.5,904.9 L964.7,907.9 L964.8,910.9 L964.9,913.9 L965.0,916.9 L965.2,919.9 L965.3,922.9 L965.4,926.0 L965.5,929.0 L965.7,932.0 L965.8,935.0 L965.9,938.0 L966.1,941.0 L966.2,944.0 L966.3,947.0 L966.4,950.0 L966.6,953.1 L966.7,956.1 L966.8,959.1 L967.0,962.1 L967.1,965.1 L967.2,968.1 L967.4,971.2 L967.5,974.2 L967.6,977.2 L967.8,980.2 L967.9,983.2 L968.1,986.3 L968.2,989.3 L968.3,992.3 L968.5,995.3 L968.7,998.3 L968.9,1001.3 L969.1,1004.4 L969.3,1007.4 L969.6,1010.4 L969.8,1013.4 L970.1,1016.4 L970.5,1019.4 L970.8,1022.3 L971.2,1025.3 L971.7,1028.3 L972.1,1031.3 L972.6,1034.2 L973.2,1037.2 L973.8,1040.1 L974.5,1043.1 L975.2,1046.0 L975.9,1048.9 L976.7,1051.8 L977.6,1054.7 L978.5,1057.6 L979.5,1060.5 L980.6,1063.4 L981.7,1066.2 L982.9,1069.0 L984.3,1071.8 L985.8,1074.2 L987.6,1076.2 L989.8,1077.5 L992.4,1077.9 L995.3,1077.7 L998.1,1077.1 L1000.9,1076.4 L1003.6,1075.4 L1006.1,1074.2 L1008.6,1072.8 L1010.9,1071.3 L1013.2,1069.7 L1015.3,1067.8 L1017.4,1065.9 L1019.5,1063.8 L1021.4,1061.6 L1023.3,1059.3 L1025.1,1057.0 L1026.9,1054.5 L1028.7,1052.0 L1030.4,1049.4 L1032.1,1046.8 L1033.7,1044.2 L1035.4,1041.5 L1037.0,1038.8 L1038.6,1036.2 L1040.2,1033.5 L1041.9,1030.8 L1043.5,1028.2 L1045.1,1025.5 L1046.7,1022.8 L1048.3,1020.2 L1049.9,1017.6 L1051.4,1014.9 L1053.0,1012.3 L1054.6,1009.6 L1056.2,1007.0 L1057.8,1004.4 L1059.3,1001.8 L1060.9,999.2 L1062.5,996.6 L1064.0,993.9 L1065.6,991.3 L1067.1,988.7 L1068.7,986.1 L1070.3,983.5 L1071.8,981.0 L1073.4,978.4 L1074.9,975.8 L1076.5,973.2 L1078.0,970.6 L1079.5,968.0 L1081.1,965.5 L1082.6,962.9 L1084.2,960.3 L1085.7,957.8 L1087.3,955.2 L1088.8,952.6 L1090.3,950.1 L1091.9,947.5 L1093.4,945.0 L1094.9,942.4 L1096.5,939.9 L1098.0,937.3 L1099.6,934.8 L1101.1,932.2 L1102.6,929.7 L1104.2,927.1 L1105.7,924.6 L1107.3,922.0 L1108.8,919.5 L1110.3,917.0 L1111.9,914.4 L1113.4,911.9 L1115.0,909.3 L1116.5,906.8 L1118.1,904.3 L1119.6,901.7 L1121.2,899.2 L1122.8,896.7 L1124.3,894.1 L1125.9,891.6 L1127.4,889.1 L1129.0,886.5 L1130.6,884.0 L1132.1,881.5 L1133.7,878.9 L1135.3,876.4 L1136.9,873.9 L1138.4,871.4 L1140.0,868.8 L1141.6,866.3 L1143.2,863.8 L1144.8,861.2 L1146.4,858.7 L1148.0,856.2 L1149.6,853.7 L1151.2,851.1 L1152.8,848.6 L1154.4,846.1 L1156.0,843.6 L1157.6,841.1 L1159.2,838.5 L1160.8,836.0 L1162.4,833.5 L1164.0,831.0 L1165.6,828.4 L1167.3,825.9 L1168.9,823.4 L1170.5,820.9 L1172.1,818.4 L1173.7,815.9 L1175.4,813.3 L1177.0,810.8 L1178.6,808.3 L1180.3,805.8 L1181.9,803.3 L1183.6,800.8 L1185.2,798.3 L1186.8,795.8 L1188.5,793.3 L1190.1,790.8 L1191.8,788.2 L1193.4,785.7 L1195.1,783.2 L1196.8,780.7 L1198.4,778.2 L1200.1,775.7 L1201.7,773.2 L1203.4,770.7 L1205.1,768.2 L1206.7,765.7 L1208.4,763.2 L1210.1,760.7 L1211.8,758.2 L1213.5,755.7 L1215.1,753.3 L1216.8,750.8 L1218.5,748.3 L1220.2,745.8 L1221.9,743.3 L1223.6,740.8 L1225.3,738.3 L1227.0,735.8 L1228.7,733.3 L1230.4,730.9 L1232.1,728.4 L1233.8,725.9 L1235.5,723.4 L1237.2,720.9 L1238.9,718.5 L1240.6,716.0 L1242.3,713.5 L1244.0,711.0 L1245.8,708.6 L1247.5,706.1 L1249.2,703.6 L1250.9,701.2 L1252.7,698.7 L1254.4,696.2 L1256.1,693.8 L1257.9,691.3 L1259.6,688.8 L1261.3,686.4 L1263.1,683.9 L1264.8,681.5 L1266.6,679.0 L1268.3,676.6 L1270.1,674.1 L1271.8,671.6 L1273.6,669.2 L1275.3,666.7 L1277.1,664.3 L1278.8,661.9 L1280.6,659.4 L1282.4,657.0 L1284.1,654.5 L1285.9,652.1 L1287.7,649.6 L1289.5,647.2 L1291.2,644.8 L1293.0,642.3 L1294.8,639.9 L1296.6,637.5 L1298.4,635.0 L1300.1,632.6 L1301.9,630.2 L1303.7,627.8 L1305.5,625.3 L1307.3,622.9 L1309.1,620.5 L1310.9,618.1 L1312.7,615.7 L1314.5,613.3 L1316.3,610.8 L1318.1,608.4 L1319.9,606.0 L1321.7,603.6 L1323.5,601.2 L1325.4,598.8 L1327.2,596.4 L1329.0,594.0 L1330.8,591.6 L1332.6,589.2 L1334.5,586.8 L1336.3,584.4 L1338.1,582.0 L1340.0,579.6 L1341.8,577.3 L1343.6,574.9 L1345.5,572.5 L1347.3,570.1 L1349.2,567.7 L1351.0,565.3 L1352.8,563.0 L1354.7,560.6 L1356.5,558.2 L1358.4,555.9 L1360.3,553.5 L1362.1,551.1 L1364.0,548.7 L1365.8,546.4 L1367.7,544.0 L1369.6,541.7 L1371.4,539.3 L1373.3,537.0 L1375.2,534.6 L1377.1,532.2 L1378.9,529.9 L1380.8,527.5 L1382.7,525.2 L1384.6,522.9 L1386.5,520.5 L1388.4,518.2 L1390.3,515.8 L1392.1,513.5 L1394.0,511.2 L1395.9,508.8 L1397.8,506.5 L1399.7,504.2 L1401.6,501.8 L1403.6,499.5 L1405.5,497.2 L1407.4,494.9 L1409.3,492.6 L1411.2,490.2 L1413.1,487.9 L1415.0,485.6 L1417.0,483.3 L1418.9,481.0 L1420.8,478.7 L1422.7,476.4 L1424.7,474.1 L1426.6,471.8 L1428.5,469.5 L1430.5,467.2 L1432.4,464.9 L1434.4,462.6 L1436.3,460.3 L1438.3,458.0 L1440.2,455.7 L1442.2,453.5 L1444.1,451.2 L1446.1,448.9 L1448.0,446.6 L1450.0,444.3 L1451.9,442.1 L1453.9,439.8 L1455.9,437.5 L1457.8,435.3 L1459.8,433.0 L1461.8,430.7 L1463.8,428.5 L1465.7,426.2 L1467.7,424.0 L1469.7,421.7 L1471.7,419.5 L1473.7,417.2 L1475.7,415.0 L1477.7,412.7 L1479.7,410.5 L1481.7,408.2 L1483.7,406.0 L1485.7,403.8 L1487.7,401.5 L1489.7,399.3 L1491.7,397.1 L1493.7,394.8 L1495.7,392.6 L1497.7,390.4 L1499.7,388.2 L1501.8,386.0 L1503.8,383.7 L1505.8,381.5 L1507.8,379.3 L1509.9,377.1 L1511.9,374.9 L1513.9,372.7 L1516.0,370.5 L1518.0,368.3 L1520.1,366.1 L1522.1,363.9 L1524.1,361.7 L1526.2,359.5 L1528.2,357.3 L1530.3,355.1 L1532.4,352.9 L1534.4,350.8 L1536.5,348.6 L1538.5,346.4 L1540.6,344.2 L1542.7,342.1 L1544.7,339.9 L1546.8,337.7 L1548.9,335.6 L1551.0,333.4 L1553.0,331.2 L1555.1,329.1 L1557.2,326.9 L1559.3,324.8 L1561.4,322.6 L1563.5,320.5 L1565.6,318.3 L1567.7,316.2 L1569.8,314.0 L1571.9,311.9 L1574.0,309.8 L1576.1,307.6 L1578.2,305.5 L1580.3,303.4 L1582.4,301.2 L1584.5,299.1 L1586.7,297.0 L1588.8,294.9 L1590.9,292.7 L1593.0,290.6 L1595.2,288.5 L1597.3,286.4 L1599.4,284.3 L1601.6,282.2 L1603.7,280.1 L1605.8,278.0 L1608.0,275.9 L1610.1,273.8 L1612.3,271.7 L1614.4,269.6 L1616.6,267.5 L1618.7,265.4 L1620.9,263.4 L1623.1,261.3 L1625.2,259.2 L1627.4,257.1 L1629.6,255.1 L1631.7,253.0 L1633.9,250.9 L1636.1,248.9 L1638.3,246.8 L1640.4,244.7 L1642.6,242.7 L1644.8,240.6 L1647.0,238.6 L1649.2,236.5 L1651.4,234.5 L1653.6,232.4 L1655.8,230.4 L1658.0,228.3 L1660.2,226.3 L1662.4,224.3 L1664.6,222.2 L1666.8,220.2 L1669.0,218.2 L1671.2,216.2 L1673.5,214.1 L1675.7,212.1 L1677.9,210.1 L1680.1,208.1 L1682.4,206.1 L1684.6,204.1" fill="none" stroke="#000000" stroke-width="15.2" stroke-linecap="round" stroke-linejoin="round"/>
<path d="M506.4,676.4 L508.3,674.1 L510.2,671.8 L512.1,669.5 L514.0,667.2 L515.9,664.9 L517.8,662.6 L519.7,660.3 L521.6,657.9 L523.5,655.6 L525.4,653.3 L527.3,651.0 L529.2,648.6 L531.1,646.3 L532.9,644.0 L534.8,641.7 L536.7,639.3 L538.6,637.0 L540.4,634.6 L542.3,632.3 L544.2,630.0 L546.0,627.6 L547.9,625.3 L549.8,622.9 L551.6,620.5 L553.5,618.2 L555.3,615.8 L557.2,613.5 L559.1,611.1 L560.9,608.7 L562.8,606.4 L564.6,604.0 L566.4,601.6 L568.3,599.3 L570.1,596.9 L572.0,594.5 L573.8,592.1 L575.6,589.7 L577.5,587.3 L579.3,585.0 L581.1,582.6 L583.0,580.2 L584.8,577.8 L586.6,575.4 L588.4,573.0 L590.2,570.6 L592.1,568.2 L593.9,565.8 L595.7,563.4 L597.5,561.0 L599.3,558.6 L601.1,556.1 L602.9,553.7 L604.7,551.3 L606.5,548.9 L608.3,546.5 L610.1,544.1 L611.9,541.6 L613.7,539.2 L615.5,536.8 L617.3,534.4 L619.0,531.9 L620.8,529.5 L622.6,527.1 L624.4,524.6 L626.2,522.2 L627.9,519.8 L629.7,517.3 L631.5,514.9 L633.3,512.4 L635.0,510.0 L636.8,507.6 L638.6,505.1 L640.3,502.7 L642.1,500.2 L643.8,497.8 L645.6,495.3 L647.3,492.9 L649.1,490.4 L650.8,487.9 L652.6,485.5 L654.3,483.0 L656.1,480.6 L657.8,478.1 L659.6,475.6 L661.3,473.2 L663.0,470.7 L664.8,468.2 L666.5,465.8 L668.2,463.3 L670.0,460.8 L671.7,458.4 L673.4,455.9 L675.1,453.4 L676.8,450.9 L678.6,448.5 L680.3,446.0 L682.0,443.5 L683.7,441.0 L685.4,438.6 L687.1,436.1 L688.8,433.6 L690.5,431.1 L692.2,428.6 L693.9,426.1 L695.6,423.6 L697.3,421.2 L699.0,418.7 L700.7,416.2 L702.4,413.7 L704.1,411.2 L705.8,408.7 L707.5,406.2 L709.1,403.7 L710.8,401.2 L712.5,398.7 L714.2,396.2 L715.9,393.7 L717.5,391.2 L719.2,388.7 L720.9,386.2 L722.5,383.7 L724.2,381.2 L725.9,378.7 L727.5,376.2 L729.2,373.7 L730.8,371.2 L732.5,368.7 L734.1,366.2 L735.8,363.7 L737.4,361.2 L739.1,358.7 L740.7,356.2 L742.4,353.7 L744.0,351.2 L745.7,348.7 L747.3,346.2 L748.9,343.7 L750.6,341.1 L752.2,338.6 L753.8,336.1 L755.5,333.6 L757.1,331.1 L758.7,328.6 L760.3,326.1 L762.0,323.6 L763.6,321.1 L765.2,318.5 L766.8,316.0 L768.4,313.5 L770.0,311.0 L771.6,308.5 L773.2,306.0 L774.9,303.5 L776.5,301.0 L778.1,298.4 L779.7,295.9 L781.3,293.4 L782.9,290.9 L784.5,288.4 L786.0,285.9 L787.6,283.4 L789.2,280.8 L790.8,278.3 L792.4,275.8 L794.0,273.3 L795.6,270.8 L797.2,268.3 L798.8,265.8 L800.4,263.2 L802.1,260.7 L803.7,258.2 L805.3,255.7 L806.9,253.2 L808.5,250.7 L810.2,248.2 L811.8,245.7 L813.4,243.2 L815.1,240.6 L816.7,238.1 L818.4,235.6 L820.0,233.1 L821.7,230.6 L823.4,228.1 L825.1,225.6 L826.7,223.1 L828.4,220.6 L830.1,218.1 L831.9,215.6 L833.6,213.1 L835.3,210.6 L837.0,208.1 L838.8,205.6 L840.6,203.1 L842.3,200.6 L844.1,198.1 L845.9,195.6 L847.7,193.1 L849.5,190.6 L851.3,188.1 L853.2,185.6 L855.0,183.1 L856.9,180.6 L858.8,178.2 L860.7,175.7 L862.6,173.2 L864.6,170.9 L866.7,168.6 L868.9,166.5 L871.2,164.6 L873.7,162.9 L876.4,161.5 L879.3,160.4 L882.3,159.6 L885.4,159.2 L888.5,159.2 L891.3,159.6 L893.9,160.4 L896.0,161.6 L897.8,163.3 L899.3,165.3 L900.6,167.6 L901.6,170.2 L902.4,172.9 L903.1,175.8 L903.7,178.8 L904.3,181.8 L904.8,184.8 L905.4,187.8 L905.9,190.8 L906.4,193.8 L906.9,196.8 L907.4,199.8 L907.9,202.8 L908.4,205.9 L908.9,208.9 L909.3,211.9 L909.8,214.9 L910.2,217.9 L910.6,220.9 L911.0,223.9 L911.4,226.9 L911.8,229.9 L912.2,232.9 L912.6,235.9 L913.0,238.9 L913.3,241.9 L913.7,244.9 L914.0,247.9 L914.4,250.9 L914.7,253.9 L915.0,256.9 L915.3,259.9 L915.6,262.9 L915.9,265.9 L916.2,268.9 L916.5,271.9 L916.7,274.9 L917.0,277.9 L917.2,280.9 L917.5,283.9 L917.7,286.9 L918.0,289.9 L918.2,292.9 L918.4,295.9 L918.6,298.9 L918.8,301.9 L919.0,304.9 L919.2,307.9 L919.4,310.9 L919.5,313.9 L919.7,316.9 L919.9,319.9 L920.0,322.9 L920.2,325.9 L920.3,328.9 L920.5,331.9 L920.6,334.9 L920.7,337.9 L920.9,340.9 L921.0,343.9 L921.1,346.9 L921.2,349.9 L921.3,352.9 L921.4,355.9 L921.5,358.9 L921.6,361.9 L921.7,364.9 L921.8,367.9 L921.8,370.9 L921.9,373.9 L922.0,376.9 L922.0,379.9 L922.1,382.9 L922.2,385.9 L922.2,388.8 L922.3,391.8 L922.3,394.8 L922.4,397.8 L922.4,400.8 L922.4,403.8 L922.5,406.8 L922.5,409.8 L922.5,412.8 L922.6,415.8 L922.6,418.8 L922.6,421.8 L922.6,424.8 L922.7,427.8 L922.7,430.8 L922.7,433.8 L922.7,436.8 L922.7,439.8 L922.7,442.8 L922.8,445.8 L922.8,448.8 L922.8,451.8 L922.8,454.8 L922.8,457.8 L922.8,460.8 L922.8,463.8 L922.8,466.8 L922.8,469.8 L922.8,472.8 L922.8,475.8 L922.8,478.8 L922.8,481.8 L922.8,484.8 L922.9,487.8 L922.9,490.8 L922.9,493.9 L922.9,496.9 L922.9,499.9 L922.9,502.9 L922.9,505.9 L922.9,508.9 L922.9,511.9 L923.0,514.9 L923.0,517.9 L923.0,520.9 L923.0,523.9 L923.0,526.9 L923.0,529.9 L923.1,532.9 L923.1,535.9 L923.1,538.9 L923.1,542.0 L923.1,545.0 L923.2,548.0 L923.2,551.0 L923.2,554.0 L923.3,557.0 L923.3,560.0 L923.3,563.0 L923.3,566.0 L923.4,569.0 L923.4,572.0 L923.4,575.1 L923.5,578.1 L923.5,581.1 L923.5,584.1 L923.6,587.1 L923.6,590.1 L923.7,593.1 L923.7,596.1 L923.7,599.1 L923.8,602.2 L923.8,605.2 L923.9,608.2 L923.9,611.2 L924.0,614.2 L924.0,617.2 L924.1,620.2 L924.1,623.2 L924.2,626.3 L924.2,629.3 L924.3,632.3 L924.3,635.3 L924.4,638.3 L924.4,641.3 L924.5,644.3 L924.5,647.3 L924.6,650.4 L924.6,653.4 L924.7,656.4 L924.8,659.4 L924.8,662.4 L924.9,665.4 L924.9,668.4 L925.0,671.4 L925.1,674.5 L925.1,677.5 L925.2,680.5 L925.3,683.5 L925.3,686.5 L925.4,689.5 L925.5,692.5 L925.5,695.5 L925.6,698.6 L925.7,701.6 L925.7,704.6 L925.8,707.6 L925.9,710.6 L926.0,713.6 L926.0,716.6 L926.1,719.6 L926.2,722.7 L926.3,725.7 L926.3,728.7 L926.4,731.7 L926.5,734.7 L926.6,737.7 L926.7,740.7 L926.7,743.7 L926.8,746.7 L926.9,749.8 L927.0,752.8 L927.1,755.8 L927.2,758.8 L927.3,761.8 L927.3,764.8 L927.4,767.8 L927.5,770.8 L927.6,773.8 L927.7,776.8 L927.8,779.8 L927.9,782.9 L928.0,785.9 L928.1,788.9 L928.2,791.9 L928.3,794.9 L928.4,797.9 L928.5,800.9 L928.6,803.9 L928.7,806.9 L928.8,809.9 L928.9,812.9 L929.0,815.9 L929.1,818.9 L929.2,821.9 L929.3,824.9 L929.4,827.9 L929.5,830.9 L929.6,833.9 L929.7,837.0 L929.8,840.0 L929.9,843.0 L930.0,846.0 L930.1,849.0 L930.2,852.0 L930.4,855.0 L930.5,858.0 L930.6,861.0 L930.7,864.0 L930.8,867.0 L930.9,870.0 L931.0,873.0 L931.2,876.0 L931.3,879.0 L931.4,882.0 L931.5,884.9 L931.6,887.9 L931.7,890.9 L931.9,893.9 L932.0,896.9 L932.1,899.9 L932.2,902.9 L932.4,905.9 L932.5,908.9 L932.6,911.9 L932.7,914.9 L932.9,917.9 L933.0,920.9 L933.1,923.9 L933.2,926.9 L933.4,929.8 L933.5,932.8 L933.6,935.8 L933.8,938.8 L933.9,941.8 L934.0,944.8 L934.2,947.8 L934.3,950.8 L934.4,953.7 L934.6,956.7 L934.7,959.7 L934.8,962.7 L935.0,965.7 L935.1,968.7 L935.2,971.6 L935.4,974.6 L935.5,977.6 L935.7,980.6 L935.8,983.6 L935.9,986.5 L936.1,989.5 L936.2,992.5 L936.4,995.5 L936.5,998.4 L936.7,1001.4 L936.8,1004.4 L936.9,1007.4 L937.1,1010.3 L937.2,1013.3 L937.4,1016.3 L937.5,1019.3 L937.7,1022.2 L937.8,1025.2 L938.0,1028.2 L938.1,1031.1 L938.3,1034.1 L938.5,1037.1 L938.6,1040.1 L938.8,1043.1 L939.0,1046.1 L939.2,1049.1 L939.5,1052.1 L939.7,1055.1 L940.0,1058.2 L940.3,1061.2 L940.6,1064.3 L941.0,1067.4 L941.4,1070.6 L941.8,1073.7 L942.2,1076.9 L942.7,1080.1 L943.3,1083.3 L943.9,1086.6 L944.6,1089.8 L945.4,1092.9 L946.3,1096.0 L947.4,1098.9 L948.7,1101.7 L950.1,1104.3 L951.8,1106.7 L953.7,1108.8 L955.9,1110.7 L958.2,1112.2 L960.6,1113.2 L963.1,1113.8 L965.6,1113.9 L968.1,1113.4 L970.5,1112.4 L972.9,1110.9 L975.3,1109.2 L977.6,1107.3 L979.9,1105.3 L982.1,1103.3 L984.3,1101.2 L986.5,1099.1 L988.6,1097.0 L990.7,1094.8 L992.7,1092.6 L994.7,1090.4 L996.6,1088.1 L998.6,1085.8 L1000.5,1083.5 L1002.3,1081.2 L1004.2,1078.8 L1006.0,1076.4 L1007.7,1074.0 L1009.5,1071.6 L1011.2,1069.2 L1012.9,1066.7 L1014.6,1064.2 L1016.3,1061.7 L1018.0,1059.2 L1019.6,1056.7 L1021.2,1054.2 L1022.8,1051.6 L1024.4,1049.1 L1026.0,1046.5 L1027.6,1044.0 L1029.2,1041.4 L1030.8,1038.8 L1032.3,1036.2 L1033.9,1033.7 L1035.5,1031.1 L1037.0,1028.5 L1038.6,1025.9 L1040.2,1023.3 L1041.7,1020.8 L1043.3,1018.2 L1044.9,1015.6 L1046.5,1013.0 L1048.0,1010.5 L1049.6,1007.9 L1051.2,1005.3 L1052.7,1002.7 L1054.3,1000.2 L1055.9,997.6 L1057.4,995.0 L1059.0,992.4 L1060.6,989.9 L1062.1,987.3 L1063.7,984.7 L1065.3,982.1 L1066.8,979.6 L1068.4,977.0 L1070.0,974.4 L1071.6,971.9 L1073.1,969.3 L1074.7,966.7 L1076.3,964.1 L1077.9,961.6 L1079.4,959.0 L1081.0,956.4 L1082.6,953.9 L1084.2,951.3 L1085.7,948.7 L1087.3,946.2 L1088.9,943.6 L1090.5,941.1 L1092.1,938.5 L1093.6,935.9 L1095.2,933.4 L1096.8,930.8 L1098.4,928.2 L1100.0,925.7 L1101.6,923.1 L1103.1,920.6 L1104.7,918.0 L1106.3,915.5 L1107.9,912.9 L1109.5,910.3 L1111.1,907.8 L1112.7,905.2 L1114.3,902.7 L1115.9,900.1 L1117.5,897.6 L1119.1,895.0 L1120.7,892.5 L1122.3,889.9 L1123.9,887.4 L1125.5,884.8 L1127.1,882.3 L1128.7,879.8 L1130.3,877.2 L1131.9,874.7 L1133.5,872.1 L1135.1,869.6 L1136.7,867.1 L1138.3,864.5 L1139.9,862.0 L1141.5,859.4 L1143.1,856.9 L1144.8,854.4 L1146.4,851.8 L1148.0,849.3 L1149.6,846.8 L1151.3,844.3 L1152.9,841.7 L1154.5,839.2 L1156.1,836.7 L1157.8,834.2 L1159.4,831.6 L1161.0,829.1 L1162.7,826.6 L1164.3,824.1 L1165.9,821.6 L1167.6,819.0 L1169.2,816.5 L1170.9,814.0 L1172.5,811.5 L1174.1,809.0 L1175.8,806.5 L1177.4,804.0 L1179.1,801.5 L1180.8,799.0 L1182.4,796.4 L1184.1,793.9 L1185.7,791.4 L1187.4,788.9 L1189.1,786.4 L1190.7,783.9 L1192.4,781.5 L1194.1,779.0 L1195.7,776.5 L1197.4,774.0 L1199.1,771.5 L1200.8,769.0 L1202.4,766.5 L1204.1,764.0 L1205.8,761.5 L1207.5,759.1 L1209.2,756.6 L1210.9,754.1 L1212.6,751.6 L1214.3,749.2 L1216.0,746.7 L1217.7,744.2 L1219.4,741.7 L1221.1,739.3 L1222.8,736.8 L1224.5,734.3 L1226.2,731.9 L1227.9,729.4 L1229.7,727.0 L1231.4,724.5 L1233.1,722.0 L1234.8,719.6 L1236.6,717.1 L1238.3,714.7 L1240.0,712.2 L1241.8,709.8 L1243.5,707.3 L1245.3,704.9 L1247.0,702.5 L1248.8,700.0 L1250.5,697.6 L1252.3,695.1 L1254.0,692.7 L1255.8,690.3 L1257.5,687.9 L1259.3,685.4 L1261.1,683.0 L1262.8,680.6 L1264.6,678.2 L1266.4,675.7 L1268.2,673.3 L1270.0,670.9 L1271.7,668.5 L1273.5,666.1 L1275.3,663.7 L1277.1,661.3 L1278.9,658.8 L1280.7,656.4 L1282.5,654.0 L1284.3,651.6 L1286.1,649.2 L1287.9,646.8 L1289.7,644.4 L1291.5,642.0 L1293.4,639.7 L1295.2,637.3 L1297.0,634.9 L1298.8,632.5 L1300.6,630.1 L1302.5,627.7 L1304.3,625.3 L1306.1,623.0 L1308.0,620.6 L1309.8,618.2 L1311.6,615.8 L1313.5,613.5 L1315.3,611.1 L1317.2,608.7 L1319.0,606.4 L1320.9,604.0 L1322.7,601.6 L1324.6,599.3 L1326.5,596.9 L1328.3,594.5 L1330.2,592.2 L1332.1,589.8 L1333.9,587.5 L1335.8,585.1 L1337.7,582.8 L1339.5,580.4 L1341.4,578.1 L1343.3,575.7 L1345.2,573.4 L1347.1,571.0 L1349.0,568.7 L1350.8,566.4 L1352.7,564.0 L1354.6,561.7 L1356.5,559.4 L1358.4,557.0 L1360.3,554.7 L1362.2,552.4 L1364.1,550.0 L1366.0,547.7 L1367.9,545.4 L1369.8,543.1 L1371.8,540.8 L1373.7,538.4 L1375.6,536.1 L1377.5,533.8 L1379.4,531.5 L1381.4,529.2 L1383.3,526.9 L1385.2,524.6 L1387.1,522.2 L1389.1,519.9 L1391.0,517.6 L1392.9,515.3 L1394.9,513.0 L1396.8,510.7 L1398.7,508.4 L1400.7,506.1 L1402.6,503.8 L1404.6,501.5 L1406.5,499.2 L1408.5,497.0 L1410.4,494.7 L1412.4,492.4 L1414.3,490.1 L1416.3,487.8 L1418.2,485.5 L1420.2,483.2 L1422.2,481.0 L1424.1,478.7 L1426.1,476.4 L1428.1,474.1 L1430.0,471.8 L1432.0,469.6 L1434.0,467.3 L1436.0,465.0 L1437.9,462.8 L1439.9,460.5 L1441.9,458.2 L1443.9,456.0 L1445.9,453.7 L1447.8,451.4 L1449.8,449.2 L1451.8,446.9 L1453.8,444.7 L1455.8,442.4 L1457.8,440.1 L1459.8,437.9 L1461.8,435.6 L1463.8,433.4 L1465.8,431.1 L1467.8,428.9 L1469.8,426.6 L1471.8,424.4 L1473.8,422.1 L1475.8,419.9 L1477.8,417.7 L1479.8,415.4 L1481.8,413.2 L1483.8,410.9 L1485.8,408.7 L1487.9,406.5 L1489.9,404.2 L1491.9,402.0 L1493.9,399.8 L1495.9,397.5 L1497.9,395.3 L1500.0,393.1 L1502.0,390.9 L1504.0,388.6 L1506.0,386.4 L1508.1,384.2 L1510.1,382.0 L1512.1,379.7 L1514.2,377.5 L1516.2,375.3 L1518.2,373.1 L1520.3,370.9 L1522.3,368.7 L1524.4,366.4 L1526.4,364.2 L1528.4,362.0 L1530.5,359.8 L1532.5,357.6 L1534.6,355.4 L1536.6,353.2 L1538.7,351.0 L1540.7,348.8 L1542.7,346.6 L1544.8,344.4 L1546.9,342.2 L1548.9,340.0 L1551.0,337.8 L1553.0,335.6 L1555.1,333.4 L1557.1,331.2 L1559.2,329.0 L1561.2,326.8 L1563.3,324.6 L1565.4,322.4 L1567.4,320.2 L1569.5,318.0 L1571.5,315.9 L1573.6,313.7 L1575.7,311.5 L1577.7,309.3 L1579.8,307.1 L1581.9,304.9 L1583.9,302.8 L1586.0,300.6 L1588.1,298.4 L1590.2,296.2 L1592.2,294.0 L1594.3,291.9 L1596.4,289.7 L1598.5,287.5 L1600.5,285.3 L1602.6,283.2 L1604.7,281.0 L1606.8,278.8 L1608.8,276.7 L1610.9,274.5 L1613.0,272.4 L1615.1,270.2 L1617.2,268.1 L1619.3,265.9 L1621.4,263.8 L1623.6,261.7 L1625.7,259.6 L1627.8,257.5 L1630.0,255.4 L1632.1,253.3 L1634.3,251.2 L1636.5,249.2 L1638.7,247.1 L1640.9,245.1 L1643.1,243.1 L1645.3,241.1 L1647.6,239.1 L1649.8,237.2 L1652.1,235.2 L1654.4,233.3 L1656.7,231.4 L1659.0,229.5 L1661.3,227.6 L1663.7,225.8 L1666.0,223.9 L1668.4,222.1 L1670.8,220.3 L1673.3,218.6 L1675.7,216.8 L1678.2,215.1 L1680.7,213.4 L1683.2,211.8 L1685.8,210.1" fill="none" stroke="#00ff00" stroke-width="15.2" stroke-linecap="round" stroke-linejoin="round"/>
<line x1="368.4" y1="934" x2="1103.3" y2="936.5" stroke="#000" stroke-width="3.5" stroke-dasharray="46.8 4.9"/>
<line x1="368" y1="1028" x2="1043" y2="1028" stroke="#000" stroke-width="3.5" stroke-dasharray="46.8 4.9"/>
<line x1="362.5" y1="1075.2" x2="1004.8" y2="1075.2" stroke="#000" stroke-width="3.5" stroke-dasharray="46.8 4.9"/>
<line x1="356.1" y1="1107.3" x2="966.8" y2="1107.3" stroke="#000" stroke-width="3.5" stroke-dasharray="46.8 4.9"/>
<rect x="360" y="39" width="1473.5" height="1187" fill="none" stroke="#000" stroke-width="4.5"/>
<path d="M507.3,1226V1202 M801.9000000000001,1226V1202 M1096.5,1226V1202 M1391.1000000000001,1226V1202 M1685.7,1226V1202 M360.0,1226V1214 M654.6,1226V1214 M949.2,1226V1214 M1243.8000000000002,1226V1214 M1538.4,1226V1214 M1833.0,1226V1214 M360,138.0H384 M360,335.8H384 M360,533.6H384 M360,731.4000000000001H384 M360,929.2H384 M360,1127.0H384 M360,236.9H372 M360,434.70000000000005H372 M360,632.5H372 M360,830.3000000000001H372 M360,1028.1000000000001H372" stroke="#000" stroke-width="4.5" fill="none"/>
<text x="507.3" y="1330" font-family='"Liberation Serif", serif' font-weight="bold" font-size="101" text-anchor="middle">0.90</text>
<text x="801.9000000000001" y="1330" font-family='"Liberation Serif", serif' font-weight="bold" font-size="101" text-anchor="middle">0.95</text>
<text x="1096.5" y="1330" font-family='"Liberation Serif", serif' font-weight="bold" font-size="101" text-anchor="middle">1.00</text>
<text x="1391.1000000000001" y="1330" font-family='"Liberation Serif", serif' font-weight="bold" font-size="101" text-anchor="middle">1.05</text>
<text x="1685.7" y="1330" font-family='"Liberation Serif", serif' font-weight="bold" font-size="101" text-anchor="middle">1.10</text>
<text x="334.5" y="169.0" font-family='"Liberation Serif", serif' font-weight="bold" font-size="101" text-anchor="end">0.0</text>
<text x="334.5" y="366.8" font-family='"Liberation Serif", serif' font-weight="bold" font-size="101" text-anchor="end"><tspan dy="7.5" textLength="66" lengthAdjust="spacingAndGlyphs">−</tspan><tspan dy="-7.5" dx="-5.6">0.5</tspan></text>
<text x="334.5" y="564.6" font-family='"Liberation Serif", serif' font-weight="bold" font-size="101" text-anchor="end"><tspan dy="7.5" textLength="66" lengthAdjust="spacingAndGlyphs">−</tspan><tspan dy="-7.5" dx="-5.6">1.0</tspan></text>
<text x="334.5" y="762.4000000000001" font-family='"Liberation Serif", serif' font-weight="bold" font-size="101" text-anchor="end"><tspan dy="7.5" textLength="66" lengthAdjust="spacingAndGlyphs">−</tspan><tspan dy="-7.5" dx="-5.6">1.5</tspan></text>
<text x="334.5" y="960.2" font-family='"Liberation Serif", serif' font-weight="bold" font-size="101" text-anchor="end"><tspan dy="7.5" textLength="66" lengthAdjust="spacingAndGlyphs">−</tspan><tspan dy="-7.5" dx="-5.6">2.0</tspan></text>
<text x="334.5" y="1158.0" font-family='"Liberation Serif", serif' font-weight="bold" font-size="101" text-anchor="end"><tspan dy="7.5" textLength="66" lengthAdjust="spacingAndGlyphs">−</tspan><tspan dy="-7.5" dx="-5.6">2.5</tspan></text>
<text x="1043.6" y="1464" font-family='"Liberation Serif", serif' font-weight="bold" font-size="135" text-anchor="middle">f(Thz)</text>
<text transform="translate(127,628.5) rotate(-90)" x="0" y="0" font-family='"Liberation Serif", serif' font-weight="bold" font-size="135" text-anchor="middle">Phase(rad)</text>
<rect x="1272" y="741.4" width="692" height="429.0000000000001" fill="#fff"/>
<line x1="1290.4" y1="802.4" x2="1537.8" y2="802.4" stroke="#0000ff" stroke-width="15"/>
<circle cx="1290.4" cy="802.4" r="7.5" fill="#0000ff"/>
<text x="1563.7 1648.7 1667.2 1725 1740.3 1782.8 1806.9 1852.7" y="825.7" font-family='"Liberation Serif", serif' font-weight="bold" font-size="85" xml:space="preserve">W <tspan textLength="56" lengthAdjust="spacingAndGlyphs">=</tspan> 2 μm</text>
<line x1="1290.4" y1="901.5" x2="1537.8" y2="901.5" stroke="#ff4040" stroke-width="15"/>
<circle cx="1290.4" cy="901.5" r="7.5" fill="#ff4040"/>
<text x="1563.7 1648.7 1667.2 1725 1740.3 1782.8 1806.9 1852.7" y="927.7" font-family='"Liberation Serif", serif' font-weight="bold" font-size="85" xml:space="preserve">W <tspan textLength="56" lengthAdjust="spacingAndGlyphs">=</tspan> 4 μm</text>
<line x1="1290.4" y1="1000.6" x2="1537.8" y2="1000.6" stroke="#000000" stroke-width="15"/>
<circle cx="1290.4" cy="1000.6" r="7.5" fill="#000000"/>
<text x="1563.7 1648.7 1667.2 1725 1740.3 1782.8 1806.9 1852.7" y="1029.7" font-family='"Liberation Serif", serif' font-weight="bold" font-size="85" xml:space="preserve">W <tspan textLength="56" lengthAdjust="spacingAndGlyphs">=</tspan> 6 μm</text>
<line x1="1290.4" y1="1099.7" x2="1537.8" y2="1099.7" stroke="#00ff00" stroke-width="15"/>
<circle cx="1290.4" cy="1099.7" r="7.5" fill="#00ff00"/>
<text x="1563.7 1648.7 1667.2 1725 1740.3 1782.8 1806.9 1852.7" y="1131.7" font-family='"Liberation Serif", serif' font-weight="bold" font-size="85" xml:space="preserve">W <tspan textLength="56" lengthAdjust="spacingAndGlyphs">=</tspan> 8 μm</text>
</svg>
</body></html>
